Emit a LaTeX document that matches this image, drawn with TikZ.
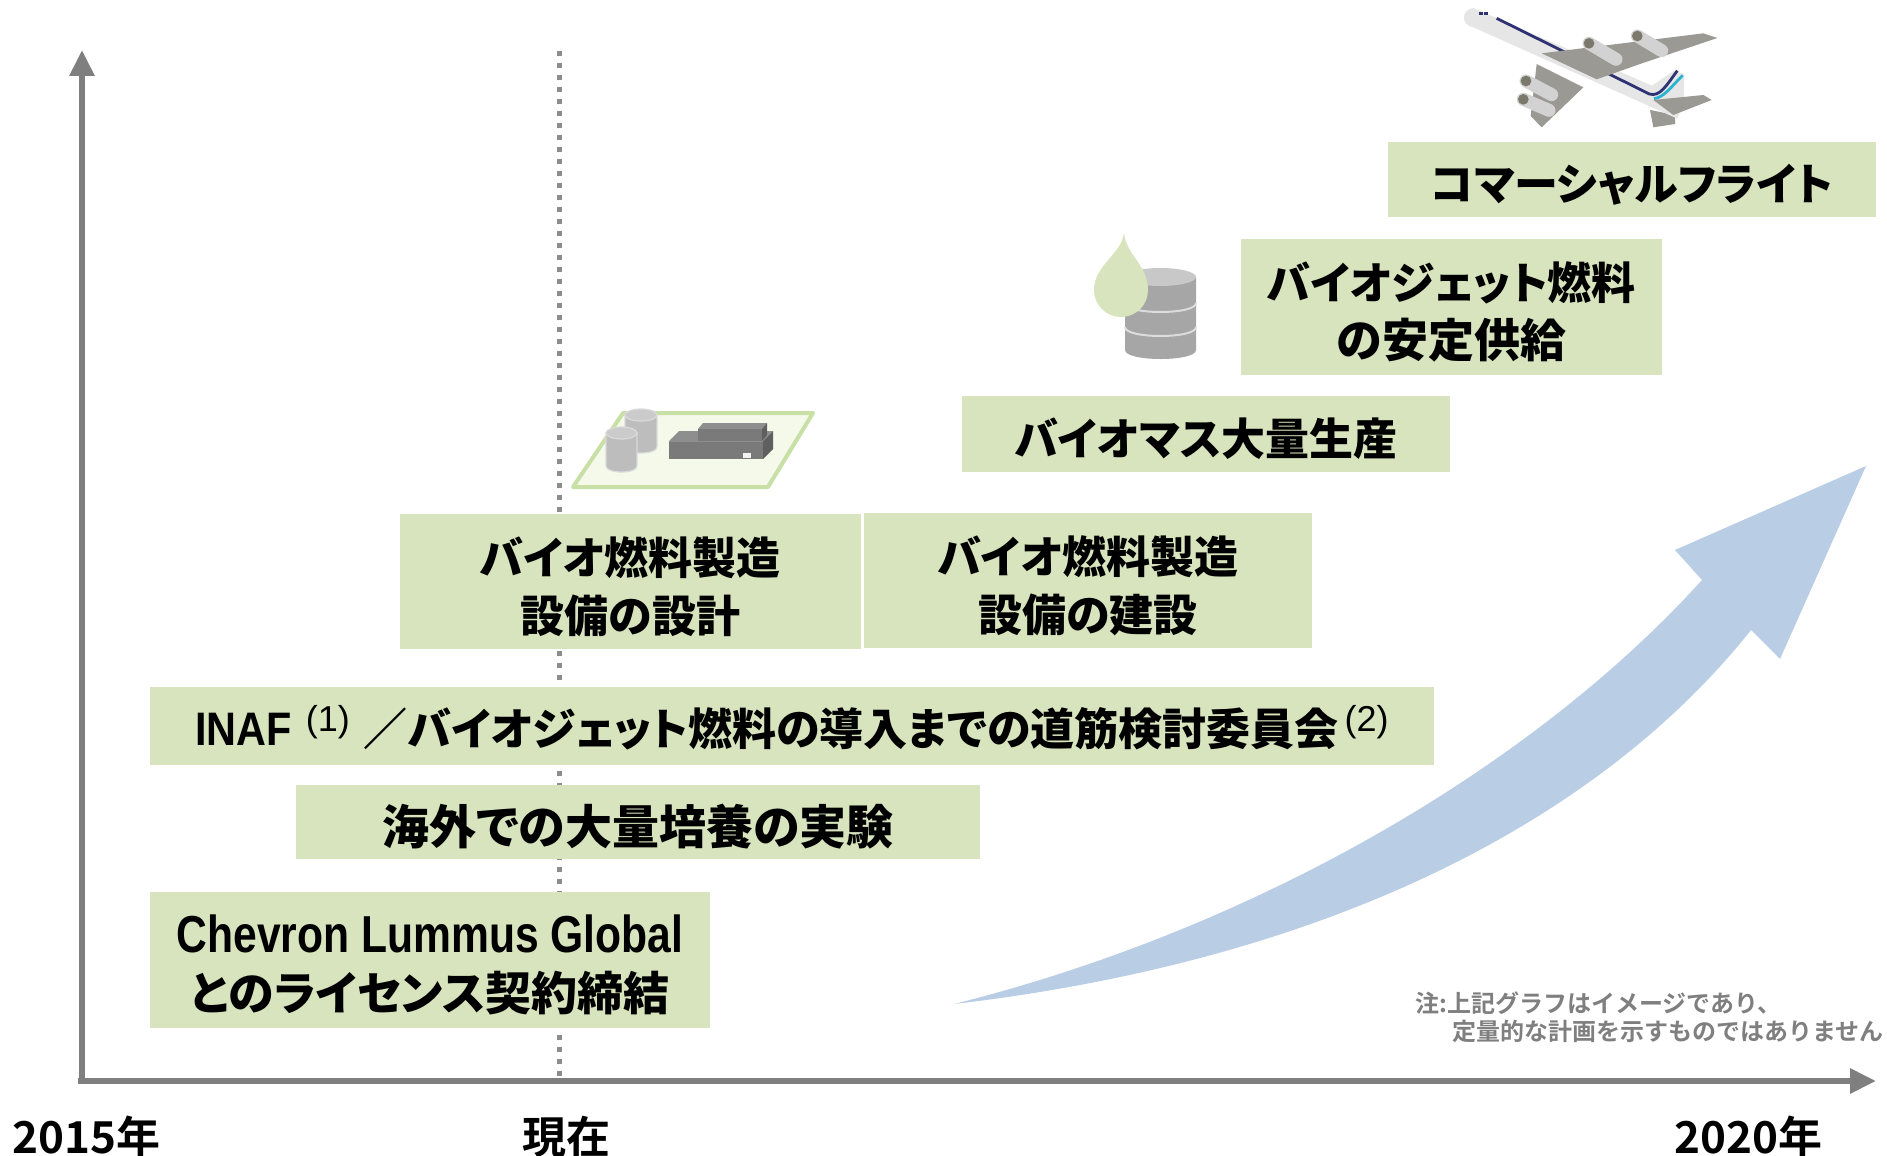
\documentclass[tikz,border=0pt]{standalone}
\usepackage{fontspec}
\usepackage{graphicx}
\usetikzlibrary{arrows.meta}
\newfontfamily\jp{Noto Sans CJK JP}[BoldFont={Noto Sans CJK JP Black}, RawFeature=+palt]
\newfontfamily\jpn{Noto Sans CJK JP}[BoldFont={Noto Sans CJK JP Bold}]
\newfontfamily\lat{Liberation Sans}
\definecolor{boxgreen}{HTML}{D7E4BD}
\definecolor{axisgray}{HTML}{7F7F7F}
\definecolor{dotgray}{HTML}{8C8C8C}
\definecolor{arrowblue}{HTML}{B9CDE5}
\definecolor{notegray}{HTML}{7F7F7F}
\definecolor{platefill}{HTML}{F4F9EA}
\definecolor{plateedge}{HTML}{C8DFA5}
\definecolor{tankside}{HTML}{BDBDBD}
\definecolor{tanktop}{HTML}{CBCBCB}
\definecolor{tankedge}{HTML}{DADADA}
\definecolor{blockfront}{HTML}{7A7A7A}
\definecolor{blocktop}{HTML}{8E8E8E}
\definecolor{blockside}{HTML}{5F5F5F}
\definecolor{barrelside}{HTML}{A6A6A6}
\definecolor{barreltop}{HTML}{C8C8C8}
\definecolor{barrelseam}{HTML}{DCDCDC}
\definecolor{planebody}{HTML}{E6E6E6}
\definecolor{planewing}{HTML}{9A9994}
\definecolor{planeengine}{HTML}{D2D2D2}
\definecolor{planeinlet}{HTML}{7B786C}
\definecolor{planenavy}{HTML}{2E3272}
\definecolor{planecyan}{HTML}{2DB3D2}
\newcommand{\supmark}[1]{\raisebox{14pt}{\lat\mdseries\fontsize{36}{36}\selectfont(#1)}}
\begin{document}
\begin{tikzpicture}[x=1pt,y=-1pt,
  stagebox/.style={fill=boxgreen, draw=none, inner sep=0pt},
  stagetext/.style={inner sep=0pt, align=center, yshift=-5pt,
    font=\jp\bfseries\fontsize{44}{58}\selectfont},
  axisline/.style={draw=axisgray, line width=6pt, -{Triangle[length=26pt,width=24pt]}},
  yearlabel/.style={anchor=base west, inner sep=0pt, font=\jpn\bfseries\fontsize{44}{44}\selectfont},
  notetext/.style={anchor=base west, inner sep=0pt, text=notegray, font=\jpn\bfseries\fontsize{24}{24}\selectfont},
  engine/.style={draw=planeengine, line width=13pt, line cap=round}
]
\useasboundingbox (0,0) rectangle (1887,1156);

% time axes
\coordinate (origin) at (82,1081);
\coordinate (xend) at (1876,1081);
\coordinate (yend) at (82,50);
\coordinate (nowtop) at (559,51);
\coordinate (nowbottom) at (559,1078);
\draw[dotgray, line width=5pt, dash pattern=on 5pt off 7pt] (nowtop) -- (nowbottom);
\draw[axisline] ([xshift=-4pt]origin) -- (xend);
\draw[axisline] ([yshift=3pt]origin) -- (yend);

% growth arrow
\fill[arrowblue] (954,1004) .. controls (1250,930) and (1530,770) .. (1702,580)
  -- (1675,550) -- (1866,466) -- (1780,659) -- (1751,630)
  .. controls (1600,820) and (1330,960) .. (954,1004) -- cycle;

% stage boxes
\node[stagebox, minimum width=488pt, minimum height=75pt] (flight) at (1632,179.5) {};
\node[stagebox, minimum width=421pt, minimum height=136pt] (supply) at (1451.5,307) {};
\node[stagebox, minimum width=488pt, minimum height=76pt] (mass) at (1206,434) {};
\node[stagebox, minimum width=461pt, minimum height=135pt] (design) at (630.5,581.5) {};
\node[stagebox, minimum width=448pt, minimum height=135pt] (build) at (1088,580.5) {};
\node[stagebox, minimum width=1284pt, minimum height=78pt] (inaf) at (792,726) {};
\node[stagebox, minimum width=684pt, minimum height=74pt] (culture) at (638,822) {};
\node[stagebox, minimum width=560pt, minimum height=136pt] (license) at (430,960) {};

% stage texts
\node[stagetext] (flighttext) at (flight.center) {コマーシャルフライト};
\node[stagetext] (supplytext) at (supply.center) {バイオジェット燃料\\{\fontsize{46}{58}\selectfont の安定供給}};
\node[stagetext] (masstext) at (mass.center) {バイオマス大量生産};
\node[stagetext] (designtext) at (design.center) {バイオ燃料製造\\設備の設計};
\node[stagetext] (buildtext) at (build.center) {バイオ燃料製造\\設備の建設};
\node[stagetext, yshift=3pt] (inaftext) at (inaf.center)
  {{\lat\bfseries\fontsize{47}{47}\selectfont\scalebox{0.88}[1]{INAF}}\hspace{14pt}%
   \supmark{1}\hspace{14pt}%
   ／バイオジェット燃料の導入までの道筋検討委員会\hspace{6pt}%
   \supmark{2}};
\node[stagetext, font=\jp\bfseries\fontsize{47}{58}\selectfont] (culturetext) at (culture.center) {海外での大量培養の実験};
\node[stagetext] (licensetext) at (license.center)
  {{\lat\bfseries\fontsize{52}{58}\selectfont\scalebox{0.82}[1]{Chevron Lummus Global}}\\{\fontsize{46}{58}\selectfont とのライセンス契約締結}};

% axis labels
\node[yearlabel] (y2015) at (12,1153) {2015年};
\node[yearlabel] (ynow) at (522,1153) {現在};
\node[yearlabel] (y2020) at (1674,1153) {2020年};

% note
\node[notetext] (note1) at (1415,1012) {注:上記グラフはイメージであり、};
\node[notetext] (note2) at (1452,1040) {定量的な計画を示すものではありません};

% plant site icon
\filldraw[fill=platefill, draw=plateedge, line width=4pt, line join=round]
  (623,413) -- (813,413) -- (768,487) -- (573,487) -- cycle;
\filldraw[fill=tankside, draw=tankedge, line width=1.2pt]
  (625,415) -- (625,447) .. controls (625,455) and (657,455) .. (657,447) -- (657,415) -- cycle;
\filldraw[fill=tanktop, draw=tankedge, line width=1.2pt] (641,415) ellipse [x radius=16, y radius=6];
\filldraw[fill=tankside, draw=tankedge, line width=1.2pt]
  (606,433) -- (606,466) .. controls (606,474) and (637,474) .. (637,466) -- (637,433) -- cycle;
\filldraw[fill=tanktop, draw=tankedge, line width=1.2pt] (621.5,433) ellipse [x radius=15.5, y radius=6];
% lower block
\fill[blocktop] (669,441) -- (679,431) -- (773,431) -- (763,441) -- cycle;
\fill[blockside] (763,441) -- (773,431) -- (773,449) -- (763,459) -- cycle;
\fill[blockfront] (669,441) rectangle (763,459);
% upper block
\fill[blocktop] (698,429) -- (703,423) -- (767,423) -- (762,429) -- cycle;
\fill[blockside] (762,429) -- (767,423) -- (767,435) -- (762,441) -- cycle;
\fill[blockfront] (698,429) rectangle (762,441);
\draw[blocktop, line width=0.8pt] (669,441) -- (763,441);
\fill[white!95!black] (743,453) rectangle (751,458);

% fuel tank with droplet
\fill[barrelside] (1125,277) -- (1125,350) .. controls (1125,362) and (1196,362) .. (1196,350) -- (1196,277) -- cycle;
\draw[barrelseam, line width=2pt] (1125,303) .. controls (1125,315) and (1196,315) .. (1196,303);
\draw[barrelseam, line width=2pt] (1125,327) .. controls (1125,339) and (1196,339) .. (1196,327);
\fill[barreltop] (1160.5,277) ellipse [x radius=35.5, y radius=9];
\fill[boxgreen] (1124,233) .. controls (1126,255) and (1148,265) .. (1148,290)
  .. controls (1148,305) and (1136,317) .. (1121,317)
  .. controls (1106,317) and (1094,305) .. (1094,290)
  .. controls (1094,265) and (1121,255) .. (1124,233) -- cycle;

% airplane
\begin{scope}[shift={(1440,0)}, scale=1/3]
  % far wing and its engines
  \fill[planewing] (290,192) -- (430,262) -- (305,382) -- (272,348) -- cycle;
  \draw[engine] (258,243) -- (335,284);
  \fill[planeinlet] (258,243) circle [radius=16];
  \draw[engine] (250,298) -- (327,331);
  \fill[planeinlet] (250,298) circle [radius=16];
  % far tailplane
  \fill[planewing] (630,330) -- (705,345) -- (705,372) -- (640,382) -- cycle;
  % fuselage
  \fill[planebody] (100,24) -- (735,300) -- (712,356) -- (100,82)
    .. controls (62,76) and (62,30) .. (100,24) -- cycle;
  % fin
  \fill[planebody] (598,283) -- (702,212) -- (732,222) -- (732,305) -- cycle;
  % cheat lines and windows
  \draw[planenavy, line width=2.8pt] (170,55) -- (628,282) .. controls (660,292) and (680,255) .. (712,212);
  \draw[planecyan, line width=2.8pt] (642,296) .. controls (672,292) and (692,262) .. (728,226);
  \fill[planenavy] (118,36) rectangle (128,45);
  \fill[planenavy] (133,36) rectangle (143,45);
  % near wing and its engines
  \fill[planewing] (305,160) -- (790,100) -- (832,114) -- (600,192) -- (470,238) -- cycle;
  \draw[engine] (447,130) -- (528,178);
  \fill[planeinlet] (447,130) circle [radius=16];
  \draw[engine] (592,108) -- (665,152);
  \fill[planeinlet] (592,108) circle [radius=16];
  % near tailplane
  \fill[planewing] (640,300) -- (790,285) -- (815,300) -- (700,345) -- cycle;
\end{scope}
\end{tikzpicture}
\end{document}
